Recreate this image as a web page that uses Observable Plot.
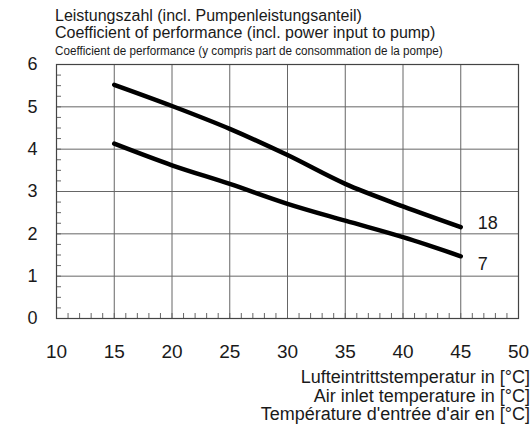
<!DOCTYPE html>
<html><head><meta charset="utf-8">
<script src="https://cdn.jsdelivr.net/npm/d3@7"></script>
<script src="https://cdn.jsdelivr.net/npm/@observablehq/plot@0.6"></script>
<style>
body{margin:0;background:#fff;font-family:"Liberation Sans",Arial,sans-serif;}
#wrap{position:relative;width:532px;height:425px;overflow:hidden;}
.t{position:absolute;white-space:nowrap;color:#1a1a1a;line-height:1;}
</style></head><body>
<div id="wrap"></div>
<script>
const temps = [15, 20, 25, 30, 35, 40, 45];
const cop18 = [5.52, 5.02, 4.48, 3.86, 3.18, 2.65, 2.16];
const cop7 = [4.13, 3.62, 3.18, 2.71, 2.31, 1.92, 1.47];
const seriesNames = ["18", "7"];
const xTicks = [10, 15, 20, 25, 30, 35, 40, 45, 50];
const yTicks = [0, 1, 2, 3, 4, 5, 6];
const titleLines = [
  "Leistungszahl (incl. Pumpenleistungsanteil)",
  "Coefficient of performance (incl. power input to pump)",
  "Coefficient de performance (y compris part de consommation de la pompe)"
];
const xLabelLines = [
  "Lufteintrittstemperatur in [°C]",
  "Air inlet temperature in [°C]",
  "Température d'entrée d'air en [°C]"
];

const data = [];
temps.forEach((t, i) => data.push({t, cop: cop18[i], s: seriesNames[0]}));
temps.forEach((t, i) => data.push({t, cop: cop7[i], s: seriesNames[1]}));
const last = temps.length - 1;
const end18 = [{t: temps[last], cop: cop18[last], s: seriesNames[0]}];
const end7 = [{t: temps[last], cop: cop7[last], s: seriesNames[1]}];

const chart = Plot.plot({
  width: 532, height: 425,
  marginTop: 64, marginLeft: 56, marginRight: 14, marginBottom: 107,
  style: {fontFamily: "'Liberation Sans', Arial, sans-serif", background: "#fff", color: "#1a1a1a"},
  x: {domain: [10, 50]},
  y: {domain: [0, 6]},
  marks: [
    Plot.gridX(xTicks, {stroke: "#666", strokeOpacity: 1, strokeWidth: 1}),
    Plot.gridY(yTicks, {stroke: "#666", strokeOpacity: 1, strokeWidth: 1}),
    Plot.axisX(d3.range(10, 51, 1), {tickSize: -5, text: null, stroke: "#666", label: null}),
    Plot.axisY(d3.range(0, 6.01, 0.25), {tickSize: -5, text: null, stroke: "#666", label: null}),
    Plot.axisX(xTicks, {tickSize: 0, tickPadding: 26, fontSize: 19, label: null}),
    Plot.axisY(yTicks, {tickSize: 0, tickPadding: 19, fontSize: 18, label: null}),
    Plot.frame({stroke: "#444", strokeWidth: 1.2}),
    Plot.line(data, {x: "t", y: "cop", z: "s", curve: "monotone-x", stroke: "#000", strokeWidth: 4.5}),
    Plot.text(end18, {x: "t", y: "cop", text: "s", dx: 17, dy: -4, textAnchor: "start", fontSize: 18, fill: "#1a1a1a"}),
    Plot.text(end7, {x: "t", y: "cop", text: "s", dx: 17, dy: 8, textAnchor: "start", fontSize: 18, fill: "#1a1a1a"})
  ]
});
const wrap = document.getElementById("wrap");
wrap.appendChild(chart);

const add = (txt, css) => { const d = document.createElement("div"); d.className = "t"; d.textContent = txt; Object.assign(d.style, css); wrap.appendChild(d); };
add(titleLines[0], {left: "55px", top: "7.5px", fontSize: "16px"});
add(titleLines[1], {left: "55px", top: "24.5px", fontSize: "16px"});
add(titleLines[2], {left: "55px", top: "44.5px", fontSize: "12.5px", transform: "scaleX(0.935)", transformOrigin: "left center"});
add(xLabelLines[0], {right: "2px", top: "367.5px", fontSize: "18px"});
add(xLabelLines[1], {right: "2px", top: "386.5px", fontSize: "18px"});
add(xLabelLines[2], {right: "2px", top: "405px", fontSize: "18px"});
</script>
</body></html>
